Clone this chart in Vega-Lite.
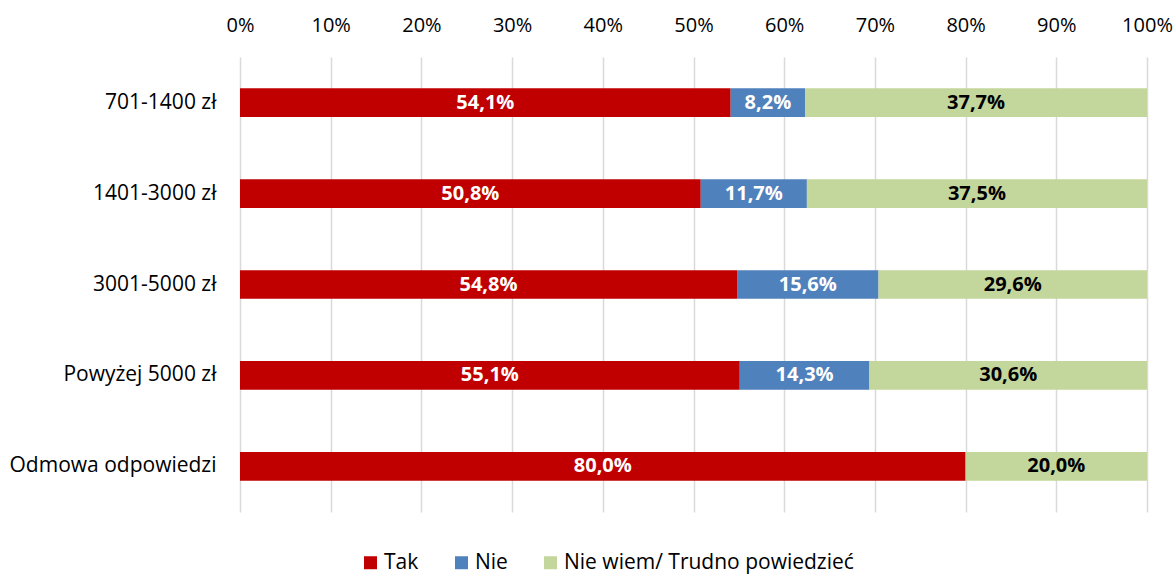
{
  "$schema": "https://vega.github.io/schema/vega-lite/v6.json",
  "width": 907,
  "height": 455,
  "autosize": {"type": "none"},
  "padding": {"left": 240, "top": 57, "right": 29, "bottom": 64},
  "config": {
    "font": "Open Sans",
    "view": {"stroke": null},
    "locale": {"number": {"decimal": ",", "thousands": " ", "grouping": [3], "currency": ["", " zł"]}}
  },
  "data": {
    "values": [
      {"group": "701-1400 zł", "answer": "Tak", "share": 0.541},
      {"group": "701-1400 zł", "answer": "Nie", "share": 0.082},
      {"group": "701-1400 zł", "answer": "Nie wiem/ Trudno powiedzieć", "share": 0.377},
      {"group": "1401-3000 zł", "answer": "Tak", "share": 0.508},
      {"group": "1401-3000 zł", "answer": "Nie", "share": 0.117},
      {"group": "1401-3000 zł", "answer": "Nie wiem/ Trudno powiedzieć", "share": 0.375},
      {"group": "3001-5000 zł", "answer": "Tak", "share": 0.548},
      {"group": "3001-5000 zł", "answer": "Nie", "share": 0.156},
      {"group": "3001-5000 zł", "answer": "Nie wiem/ Trudno powiedzieć", "share": 0.296},
      {"group": "Powyżej 5000 zł", "answer": "Tak", "share": 0.551},
      {"group": "Powyżej 5000 zł", "answer": "Nie", "share": 0.143},
      {"group": "Powyżej 5000 zł", "answer": "Nie wiem/ Trudno powiedzieć", "share": 0.306},
      {"group": "Odmowa odpowiedzi", "answer": "Tak", "share": 0.8},
      {"group": "Odmowa odpowiedzi", "answer": "Nie wiem/ Trudno powiedzieć", "share": 0.2}
    ]
  },
  "transform": [
    {"calculate": "indexof(['Tak','Nie','Nie wiem/ Trudno powiedzieć'], datum.answer)", "as": "ord"},
    {"stack": "share", "groupby": ["group"], "sort": [{"field": "ord", "order": "ascending"}], "as": ["x0", "x1"]},
    {"calculate": "(datum.x0 + datum.x1) / 2", "as": "mid"}
  ],
  "encoding": {
    "y": {
      "field": "group",
      "type": "nominal",
      "sort": ["701-1400 zł", "1401-3000 zł", "3001-5000 zł", "Powyżej 5000 zł", "Odmowa odpowiedzi"],
      "scale": {"paddingInner": 0.685, "paddingOuter": 0.345},
      "axis": {"title": null, "domain": false, "ticks": false, "labelFontSize": 21, "labelColor": "#000000", "labelPadding": 24, "labelLimit": 300}
    }
  },
  "layer": [
    {
      "mark": {"type": "bar"},
      "encoding": {
        "x": {
          "field": "x0",
          "type": "quantitative",
          "scale": {"domain": [0, 1], "nice": false},
          "axis": {"orient": "top", "title": null, "domain": false, "ticks": false, "format": ".0%", "values": [0, 0.1, 0.2, 0.3, 0.4, 0.5, 0.6, 0.7, 0.8, 0.9, 1], "grid": true, "gridColor": "#d9d9d9", "gridWidth": 1.5, "labelFontSize": 20, "labelColor": "#000000", "labelPadding": 22, "labelFlush": false}
        },
        "x2": {"field": "x1"},
        "color": {
          "field": "answer",
          "type": "nominal",
          "sort": ["Tak", "Nie", "Nie wiem/ Trudno powiedzieć"],
          "scale": {"domain": ["Tak", "Nie", "Nie wiem/ Trudno powiedzieć"], "range": ["#C00000", "#4F81BD", "#C3D69B"]},
          "legend": {
            "title": null, "orient": "none", "direction": "horizontal", "legendX": 120, "legendY": 495,
            "symbolType": "square", "symbolSize": 169, "symbolStrokeWidth": 0, "labelFontSize": 21, "labelColor": "#000000",
            "columnPadding": 32, "labelOffset": 3, "symbolOpacity": 1, "labelLimit": 400
          }
        }
      }
    },
    {
      "mark": {"type": "text", "fontSize": 20, "fontWeight": "bold", "align": "center", "baseline": "middle"},
      "encoding": {
        "x": {"field": "mid", "type": "quantitative"},
        "text": {"field": "share", "type": "quantitative", "format": ".1%"},
        "color": {"condition": {"test": "datum.answer === 'Nie wiem/ Trudno powiedzieć'", "value": "#000000"}, "value": "#ffffff"}
      }
    }
  ]
}
